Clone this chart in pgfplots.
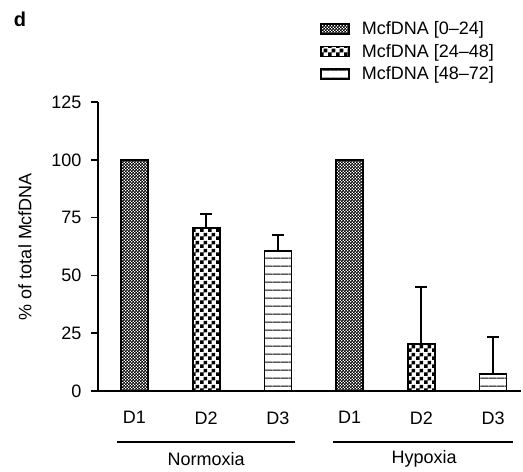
\documentclass[border=0pt]{standalone}
\usepackage{fontspec}
\setmainfont{Liberation Sans}
\usepackage{pgfplots}
\pgfplotsset{compat=1.18}
\usetikzlibrary{patterns}

% fill patterns of the three series
\pgfdeclarepatternformonly{finechecker}{\pgfpointorigin}{\pgfqpoint{3.4pt}{3.4pt}}{\pgfqpoint{3.4pt}{3.4pt}}{%
  \pgfpathrectangle{\pgfpointorigin}{\pgfqpoint{1.8pt}{1.8pt}}%
  \pgfpathrectangle{\pgfqpoint{1.7pt}{1.7pt}}{\pgfqpoint{1.8pt}{1.8pt}}%
  \pgfusepath{fill}}
\pgfdeclarepatternformonly{bigchecker}{\pgfpointorigin}{\pgfqpoint{8pt}{8pt}}{\pgfqpoint{8pt}{8pt}}{%
  \pgfpathrectangle{\pgfpointorigin}{\pgfqpoint{4pt}{4pt}}%
  \pgfpathrectangle{\pgfqpoint{4pt}{4pt}}{\pgfqpoint{4pt}{4pt}}%
  \pgfusepath{fill}}
\pgfdeclarepatternformonly{hlines}{\pgfpointorigin}{\pgfqpoint{8.3pt}{8.3pt}}{\pgfqpoint{8.3pt}{8.3pt}}{%
  \pgfpathrectangle{\pgfqpoint{0pt}{3.6pt}}{\pgfqpoint{8.3pt}{1.1pt}}%
  \pgfusepath{fill}}

\newcommand\f{\fontsize{18pt}{20pt}\selectfont}

\pgfplotsset{
  legbox/.style={legend image code/.code={\draw[##1] (0pt,-5pt) rectangle (28pt,5pt);}},
  errs/.style={error bars/.cd, y dir=plus, y explicit,
    error bar style={line width=2pt, black},
    error mark options={rotate=90, mark size=6pt, line width=2pt, black}},
}

\begin{document}
\begin{tikzpicture}
\path[use as bounding box] (0,0) rectangle (523pt,-472pt);
\node[font=\bfseries\fontsize{20pt}{24pt}\selectfont] at (20pt,-19pt) {d};
\begin{axis}[
    at={(98pt,-391pt)}, anchor=south west,
    scale only axis,
    width=423pt, height=289pt,
    xmin=-0.509, xmax=5.39,
    ymin=0, ymax=125,
    ytick={0,25,50,75,100,125},
    xtick={0,1,2,3,4,5},
    xticklabels={D1,D2,D3,D1,D2,D3},
    axis x line=bottom, axis y line=left,
    axis line style={-, line width=1.6pt},
    tick align=outside,
    major tick length=7pt,
    ytick style={line width=1.6pt, black},
    xtick style={draw=none},
    tick label style={font=\f},
    /pgf/number format/assume math mode=true,
    yticklabel style={xshift=-6pt},
    xticklabel style={yshift=-10pt},
    ylabel={\% of total McfDNA},
    ylabel style={font=\f, yshift=13pt},
    ybar, bar width=27pt, bar shift=0pt,
    clip=false,
    legend style={at={(axis description cs:0.525,1.285)}, anchor=north west,
        draw=none, fill=none, inner sep=0pt, row sep=4pt, font=\f,
        /tikz/every odd column/.append style={column sep=10pt}},
    legend cell align=left,
]
\addplot[draw=black, line width=1.6pt, pattern=finechecker, legbox]
    coordinates {(0,100) (3,100)};
\addplot[draw=black, line width=1.6pt, pattern=bigchecker, legbox, errs]
    coordinates {(1,70.5) +- (0,6.1) (4,20.3) +- (0,24.7)};
\addplot[draw=black, line width=1.6pt, pattern=hlines, legbox, errs]
    coordinates {(2,60.5) +- (0,7.0) (5,7.4) +- (0,16.0)};
\legend{McfDNA [0–24], McfDNA [24–48], McfDNA [48–72]}
\draw[line width=1.6pt] ([yshift=-51pt]axis cs:-0.244,0) -- ([yshift=-51pt]axis cs:2.24,0);
\draw[line width=1.6pt] ([yshift=-51pt]axis cs:2.77,0) -- ([yshift=-51pt]axis cs:5.28,0);
\node[font=\f] at ([yshift=-68pt]axis cs:1,0) {Normoxia};
\node[font=\f] at ([yshift=-68pt]axis cs:4.04,0) {Hypoxia};
\end{axis}
\end{tikzpicture}
\end{document}
